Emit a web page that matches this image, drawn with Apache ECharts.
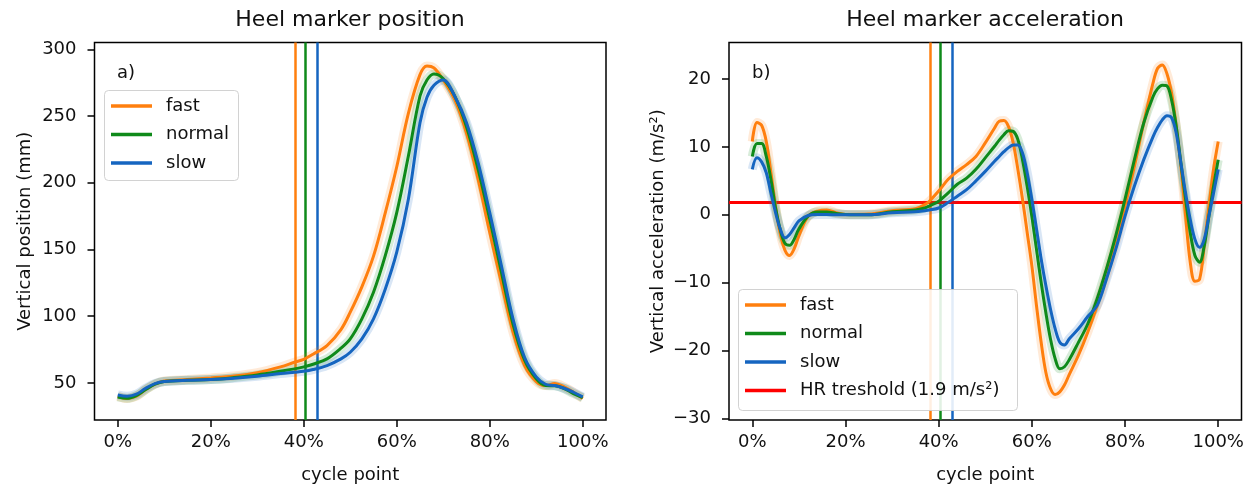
<!DOCTYPE html>
<html>
<head>
<meta charset="utf-8">
<script src="https://cdn.jsdelivr.net/npm/echarts@6/dist/echarts.min.js"></script>
<style>
  html, body { margin: 0; padding: 0; background: #fff; }
  #chart { width: 1252px; height: 489px; }
</style>
</head>
<body>
<div id="chart"></div>
<script>
// heel marker position (mm) vs cycle point (%)
const posX = [0, 2, 4, 6, 8, 10, 15, 20, 25, 30, 35, 38, 40, 42, 45, 48, 50, 52.5, 55, 57.5, 60, 62.5, 65, 66.5, 68, 70, 72.5, 75, 77.5, 80, 82.5, 85, 87.5, 90, 92, 94, 96, 98, 100]
const posFast = [40, 38.3, 40, 45, 49, 51.5, 52.5, 53.7, 55.2, 57.7, 62, 65.5, 67.7, 71.5, 78, 90, 103, 122, 145, 177, 212, 252, 281, 287.5, 286, 277, 262, 237, 202.5, 162.7, 125, 88, 63, 51, 48, 49.5, 47, 43, 38.3]
const posNormal = [39.5, 38.5, 40.5, 45, 49, 51, 52, 52.5, 54, 56, 58.7, 60.5, 62, 64, 68, 76, 83, 98, 118, 145, 177.6, 220, 265, 277, 281.5, 278, 264.7, 242, 210, 172.6, 133, 94, 67, 53, 48, 47.8, 45.8, 42, 39]
const posSlow = [41, 40, 41.5, 46, 49.5, 51, 52, 52.5, 53.5, 55, 57, 58, 58.7, 60, 63, 68, 73, 83, 98, 120, 148, 187.6, 245, 264, 273, 277, 264.7, 245, 215, 177.6, 138, 98, 69, 54.5, 49, 48, 46, 43, 39.5]

// heel marker acceleration (m/s2) vs cycle point (%)
const accX = [0, 1, 2, 3, 4, 5, 6, 7, 8, 9, 10, 12, 14, 16, 18, 20, 25, 30, 35, 37, 38, 40, 42, 44, 46, 48, 50, 52, 53, 54, 55, 56, 57, 58, 59, 60, 61, 62, 63, 64, 65, 66, 67, 68, 70, 72, 74, 76, 78, 80, 82, 84, 86, 87, 88, 89, 90, 91, 92, 93, 94, 95, 96, 97, 98, 99, 100]
const accFast = [10.8, 13.6, 13.2, 10.8, 6.2, 1.2, -2.8, -5.2, -6.0, -5.0, -3.1, -0.2, 0.55, 0.7, 0.3, 0.05, 0.1, 0.6, 0.9, 1.5, 2.0, 3.5, 5.2, 6.4, 7.4, 8.6, 10.6, 12.8, 13.8, 13.9, 13.0, 10.6, 6.7, 2.3, -2.6, -7.5, -13.4, -18.8, -23.2, -25.6, -26.5, -26.1, -25.1, -23.6, -20.7, -17.3, -13.4, -9.0, -4.1, 1.3, 7.1, 13.5, 19.4, 21.6, 22.1, 20.8, 17.9, 13.0, 7.1, -0.2, -7.0, -9.8, -9.5, -4.6, 1.3, 6.7, 10.8]
const accNormal = [8.6, 10.5, 10.5, 8.6, 5.2, 1.0, -2.2, -4.2, -4.5, -3.6, -2.1, -0.2, 0.4, 0.4, 0.2, 0.05, 0, 0.45, 0.7, 1.0, 1.3, 2.0, 3.2, 4.5, 5.4, 6.7, 8.4, 10.1, 11.0, 11.8, 12.4, 12.3, 11.1, 8.1, 4.2, -0.2, -5.1, -10.0, -14.4, -18.3, -21.2, -22.7, -22.4, -21.4, -18.8, -16.1, -12.4, -8.0, -3.1, 2.3, 8.1, 13.5, 17.4, 18.6, 19.1, 19.0, 16.9, 13.0, 7.6, 2.3, -2.6, -6.0, -7.0, -4.6, -0.2, 4.2, 8.1]
const accSlow = [6.7, 8.4, 7.8, 6.2, 3.2, 0.3, -2.1, -3.4, -2.9, -1.9, -0.9, -0.1, 0.05, 0.05, 0, 0, 0, 0.3, 0.45, 0.6, 0.7, 1.0, 1.8, 2.75, 3.7, 5.0, 6.4, 7.9, 8.6, 9.3, 9.9, 10.3, 10.3, 9.1, 6.2, 2.3, -2.1, -6.5, -10.4, -13.9, -16.8, -18.8, -19.2, -18.3, -16.8, -15.0, -13.4, -9.5, -5.1, -0.2, 4.2, 8.1, 11.5, 12.9, 14.0, 14.6, 14.3, 12.0, 7.6, 3.2, -0.7, -3.6, -4.8, -3.6, -0.2, 3.2, 6.7]

// heel rise events (% of cycle) and threshold
const eventFast = 38.1
const eventNormal = 40.3
const eventSlow = 42.9
const hrThreshold = 1.9

const speeds = ['fast', 'normal', 'slow']
const hrName = 'HR treshold (1.9 m/s²)'
const xTicks = [0, 20, 40, 60, 80, 100]
const posTicks = [50, 100, 150, 200, 250, 300]
const accTicks = [-30, -20, -10, 0, 10, 20]

const colors = { fast: '#ff7f0e', normal: '#0f8a1a', slow: '#1565c0' }
const font = 'DejaVu Sans'
const ink = '#111'

const chart = echarts.init(document.getElementById('chart'), null, { renderer: 'canvas' })

function curve(name, xs, ys, idx, event) {
  const data = xs.map((x, i) => [x, ys[i]])
  const band = {
    name: name + ' band',
    type: 'line',
    xAxisIndex: idx,
    yAxisIndex: idx,
    data: data,
    symbol: 'none',
    smooth: 0.35,
    silent: true,
    z: 2,
    lineStyle: { color: colors[name], width: 9, opacity: 0.16 }
  }
  const line = {
    name: name,
    type: 'line',
    xAxisIndex: idx,
    yAxisIndex: idx,
    data: data,
    symbol: 'none',
    smooth: 0.35,
    z: 3,
    color: colors[name],
    lineStyle: { color: colors[name], width: 3 },
    markLine: {
      silent: true,
      z: 2,
      symbol: ['none', 'none'],
      label: { show: false },
      lineStyle: { color: colors[name], width: 2.5, type: 'solid' },
      data: [{ xAxis: event }]
    }
  }
  return [band, line]
}

function xAxisCfg(idx) {
  return {
    gridIndex: idx,
    type: 'value',
    min: -5,
    max: 105,
    axisLine: { show: false, onZero: false },
    splitLine: { show: false },
    axisTick: { show: true, length: 7, lineStyle: { color: '#000', width: 1.5 }, customValues: xTicks },
    axisLabel: { customValues: xTicks, formatter: v => v + '%', fontSize: 18, color: ink, fontFamily: font, margin: 13 },
    name: 'cycle point',
    nameLocation: 'middle',
    nameGap: 46,
    nameTextStyle: { fontSize: 18, color: ink, fontFamily: font }
  }
}

function yAxisCfg(idx, min, max, ticks, name, gap) {
  return {
    gridIndex: idx,
    type: 'value',
    min: min,
    max: max,
    axisLine: { show: false, onZero: false },
    splitLine: { show: false },
    axisTick: { show: true, length: 7, lineStyle: { color: '#000', width: 1.5 }, customValues: ticks },
    axisLabel: {
      customValues: ticks,
      formatter: v => String(v).replace('-', '\u2212'),
      fontSize: 18, color: ink, fontFamily: font, margin: 18
    },
    name: name,
    nameLocation: 'middle',
    nameGap: gap,
    nameTextStyle: { fontSize: 18, color: ink, fontFamily: font }
  }
}

function legendCfg(left, top, names) {
  return {
    data: names,
    orient: 'vertical',
    left: left,
    top: top,
    zlevel: 1,
    z: 20,
    icon: 'rect',
    itemWidth: 41,
    itemHeight: 3.5,
    itemGap: 8.5,
    padding: 0,
    selectedMode: false,
    textStyle: { fontSize: 18, color: ink, fontFamily: font, lineHeight: 20, padding: [0, 0, 0, 9] }
  }
}

// translucent legend frame, drawn above the plot lines
function legendBox(x, y, w, h) {
  return {
    type: 'rect',
    zlevel: 1,
    z: 0,
    silent: true,
    shape: { x: x, y: y, width: w, height: h, r: 4 },
    style: { fill: '#ffffff', opacity: 0.88, stroke: '#cccccc', lineWidth: 1 }
  }
}

let series = []
series = series.concat(curve('fast', posX, posFast, 0, eventFast))
series = series.concat(curve('normal', posX, posNormal, 0, eventNormal))
series = series.concat(curve('slow', posX, posSlow, 0, eventSlow))
series = series.concat(curve('fast', accX, accFast, 1, eventFast))
series = series.concat(curve('normal', accX, accNormal, 1, eventNormal))
series = series.concat(curve('slow', accX, accSlow, 1, eventSlow))
series.push({
  name: hrName,
  type: 'line',
  xAxisIndex: 1,
  yAxisIndex: 1,
  data: [],
  symbol: 'none',
  color: '#ff0000',
  lineStyle: { color: '#ff0000', width: 3 },
  markLine: {
    silent: true,
    z: 2,
    symbol: ['none', 'none'],
    label: { show: false },
    lineStyle: { color: '#ff0000', width: 3, type: 'solid' },
    data: [{ yAxis: hrThreshold }]
  }
})

chart.setOption({
  animation: false,
  textStyle: { fontFamily: font },
  title: [
    { text: 'Heel marker position', left: 350, top: 9, padding: 0, textAlign: 'center',
      textStyle: { fontSize: 22, fontWeight: 'normal', color: ink, fontFamily: font } },
    { text: 'Heel marker acceleration', left: 985, top: 9, padding: 0, textAlign: 'center',
      textStyle: { fontSize: 22, fontWeight: 'normal', color: ink, fontFamily: font } }
  ],
  grid: [
    { left: 94.5, top: 42.5, width: 511.5, height: 379, show: true, borderColor: '#000', borderWidth: 1.5 },
    { left: 729, top: 42.5, width: 512.5, height: 379, show: true, borderColor: '#000', borderWidth: 1.5 }
  ],
  xAxis: [xAxisCfg(0), xAxisCfg(1)],
  yAxis: [
    yAxisCfg(0, 22.2, 305.1, posTicks, 'Vertical position (mm)', 60),
    yAxisCfg(1, -30.25, 25.4, accTicks, 'Vertical acceleration (m/s²)', 62)
  ],
  legend: [
    legendCfg(111, 96, speeds),
    legendCfg(745, 295, speeds.concat([hrName]))
  ],
  graphic: [
    legendBox(104.5, 90.5, 134, 90),
    legendBox(738.5, 289.5, 279, 121),
    { type: 'text', left: 117, top: 64, style: { text: 'a)', fontSize: 18, fill: ink, fontFamily: font } },
    { type: 'text', left: 752, top: 64, style: { text: 'b)', fontSize: 18, fill: ink, fontFamily: font } }
  ],
  series: series
})
</script>
</body>
</html>
